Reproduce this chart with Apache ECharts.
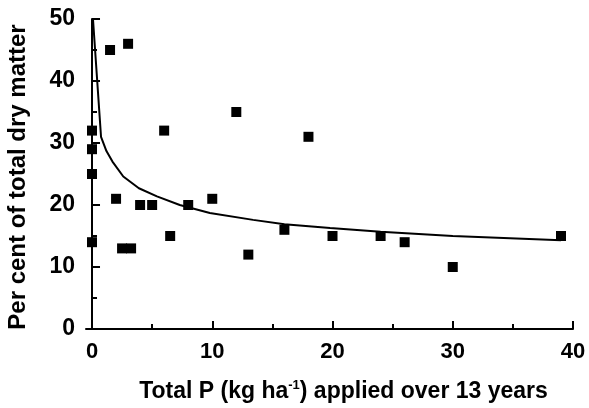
<!DOCTYPE html>
<html>
<head>
<meta charset="utf-8">
<script src="https://cdn.jsdelivr.net/npm/echarts@6/dist/echarts.min.js"></script>
<style>
  html, body { margin: 0; padding: 0; background: #fff; }
  #chart { width: 589px; height: 408px; }
</style>
</head>
<body>
<div id="chart"></div>
<script>
// observed points: [total P, per cent of dry matter]
var points = [
  [0, 14], [0, 25], [0, 29], [0, 32], [1.5, 45], [2, 21], [2.5, 13], [3, 46],
  [3.25, 13], [4, 20], [5, 20], [6, 32], [6.5, 15], [8, 20], [10, 21], [12, 35],
  [13, 12], [16, 16], [18, 31], [20, 15], [24, 15], [26, 14], [30, 10], [39, 15]
];
// fitted curve
var curve = [
  [0.08, 50], [0.75, 31], [1.2, 28.7], [1.7, 27], [2.6, 24.6], [3.9, 22.7],
  [5.4, 21.4], [7.3, 20], [9.8, 18.7], [13.4, 17.6], [16, 16.9], [19.8, 16.3],
  [24, 15.7], [30, 15], [39, 14.3]
];
var xMajor = [0, 10, 20, 30, 40];
var xMinor = [5, 15, 25, 35];

var font = "Liberation Sans";
var chart = echarts.init(document.getElementById("chart"));
chart.setOption({
  animation: false,
  textStyle: { fontFamily: font, fontWeight: "bold", color: "#000" },
  grid: { left: 86, right: 16, top: 19, bottom: 79, outerBoundsMode: "none" },
  xAxis: [
    {
      type: "value",
      min: -0.5,
      max: 40,
      splitLine: { show: false },
      axisLine: { onZero: false, lineStyle: { color: "#000", width: 2 } },
      axisTick: { inside: true, length: 8, customValues: xMajor, lineStyle: { color: "#000", width: 2 } },
      axisLabel: {
        customValues: xMajor,
        margin: 12,
        color: "#000",
        fontFamily: font,
        fontWeight: "bold",
        fontSize: 22
      },
      name: "Total P (kg ha{sup|-1}) applied over 13 years",
      nameLocation: "middle",
      nameGap: 50,
      nameTextStyle: {
        color: "#000",
        fontFamily: font,
        fontWeight: "bold",
        fontSize: 23,
        lineHeight: 26,
        padding: [0, 0, 0, 28],
        rich: {
          sup: { fontFamily: font, fontWeight: "bold", fontSize: 13, verticalAlign: "top", lineHeight: 22, color: "#000" }
        }
      }
    },
    {
      type: "value",
      min: -0.5,
      max: 40,
      position: "bottom",
      splitLine: { show: false },
      axisLine: { show: false },
      axisTick: { inside: true, length: 5, customValues: xMinor, lineStyle: { color: "#000", width: 2 } },
      axisLabel: { show: false }
    }
  ],
  yAxis: {
    type: "value",
    min: 0,
    max: 50,
    interval: 10,
    splitLine: { show: false },
    axisLine: { show: true, lineStyle: { color: "#000", width: 2 } },
    axisTick: { show: true, inside: true, length: 8, lineStyle: { color: "#000", width: 2 } },
    minorTick: { show: true, splitNumber: 2, length: 5, lineStyle: { color: "#000", width: 2 } },
    axisLabel: {
      margin: 11,
      color: "#000",
      fontFamily: font,
      fontWeight: "bold",
      fontSize: 23
    },
    name: "Per cent of total dry matter",
    nameLocation: "middle",
    nameGap: 56,
    nameTextStyle: {
      color: "#000",
      fontFamily: font,
      fontWeight: "bold",
      fontSize: 24,
      padding: [0, 6, 0, 0]
    }
  },
  series: [
    {
      type: "line",
      data: curve,
      showSymbol: false,
      lineStyle: { color: "#000", width: 2 },
      z: 2
    },
    {
      type: "scatter",
      data: points,
      symbol: "rect",
      symbolSize: 10,
      itemStyle: { color: "#000", opacity: 1 },
      z: 3
    }
  ]
});
</script>
</body>
</html>
